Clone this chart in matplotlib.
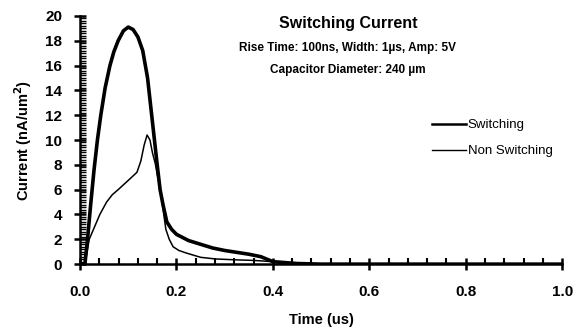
import matplotlib
matplotlib.use("Agg")
import matplotlib.pyplot as plt
from matplotlib.ticker import MultipleLocator, FormatStrFormatter

plt.rcParams['font.family'] = ['Liberation Sans', 'DejaVu Sans']

# values
t_sw = [0.0, 0.010, 0.015, 0.022, 0.029, 0.036, 0.043, 0.052, 0.062, 0.070, 0.079, 0.090,
        0.100, 0.110, 0.120, 0.130, 0.140, 0.150, 0.160, 0.166, 0.172, 0.180, 0.190, 0.200,
        0.225, 0.250, 0.275, 0.300, 0.325, 0.350, 0.375, 0.400, 0.450, 0.500, 0.700, 1.000]
i_sw = [0.0, 0.0, 1.8, 4.8, 7.6, 10.0, 12.0, 14.2, 16.0, 17.1, 18.0, 18.8,
        19.1, 18.9, 18.3, 17.2, 15.0, 11.5, 8.0, 6.0, 4.8, 3.4, 2.8, 2.4,
        1.9, 1.6, 1.3, 1.1, 0.95, 0.8, 0.6, 0.2, 0.05, 0.0, 0.0, 0.0]

t_ns = [0.0, 0.010, 0.019, 0.030, 0.041, 0.055, 0.067, 0.079, 0.093, 0.107, 0.118, 0.126,
        0.133, 0.139, 0.145, 0.150, 0.156, 0.163, 0.170, 0.178, 0.185, 0.193, 0.205, 0.220,
        0.250, 0.280, 0.320, 0.360, 0.400, 0.450, 0.500, 0.700, 1.000]
i_ns = [0.0, 0.0, 2.0, 3.0, 4.0, 5.0, 5.6, 6.0, 6.5, 7.0, 7.4, 8.3,
        9.6, 10.4, 10.0, 9.0, 8.1, 6.6, 5.0, 2.8, 2.0, 1.4, 1.1, 0.9,
        0.55, 0.42, 0.35, 0.3, 0.2, 0.05, 0.0, 0.0, 0.0]

x_ticks = [0.0, 0.2, 0.4, 0.6, 0.8, 1.0]
y_ticks = [0, 2, 4, 6, 8, 10, 12, 14, 16, 18, 20]

fig = plt.figure(figsize=(5.76, 3.31), dpi=100)
ax = fig.add_axes([0.139, 0.202, 0.837, 0.750])

sw_line, = ax.plot(t_sw, i_sw, color='black', lw=2.6, solid_joinstyle='round')
ns_line, = ax.plot(t_ns, i_ns, color='black', lw=1.1)

ax.set_xlim(0, 1.0)
ax.set_ylim(0, 20)
ax.set_xticks(x_ticks)
ax.set_yticks(y_ticks)
ax.xaxis.set_major_formatter(FormatStrFormatter('%.1f'))
ax.xaxis.set_minor_locator(MultipleLocator(0.04))
ax.yaxis.set_minor_locator(MultipleLocator(0.2))

for s in ['top', 'right']:
    ax.spines[s].set_visible(False)
for s in ['left', 'bottom']:
    ax.spines[s].set_linewidth(1.8)

ax.tick_params(axis='both', which='major', direction='inout', length=8, width=1.8,
               labelsize=11)
ax.tick_params(axis='x', which='major', pad=11)
ax.tick_params(axis='y', which='major', pad=9)
ax.tick_params(axis='x', which='minor', direction='in', length=4, width=1.5)
ax.tick_params(axis='y', which='minor', direction='in', length=4, width=1.0)
for lab in ax.get_xticklabels() + ax.get_yticklabels():
    lab.set_fontweight('bold')

ax.set_xlabel('Time (us)', fontsize=10.5, fontweight='bold', labelpad=10)
ax.set_ylabel('Current (nA/um$^\\mathbf{2}$)', fontsize=10.5, fontweight='bold', labelpad=8)

fig.text(0.604, 0.93, 'Switching Current', ha='center', va='center',
         fontsize=11.5, fontweight='bold')
fig.text(0.604, 0.855, 'Rise Time: 100ns, Width: 1\u00b5s, Amp: 5V', ha='center',
         va='center', fontsize=8.5, fontweight='bold')
fig.text(0.604, 0.789, 'Capacitor Diameter: 240 \u00b5m', ha='center', va='center',
         fontsize=8.5, fontweight='bold')

leg_sw, = ax.plot([], [], color='black', lw=1.8)
leg_ns, = ax.plot([], [], color='black', lw=1.0)
ax.legend([leg_sw, leg_ns], ['Switching', 'Non Switching'], loc='upper left',
          bbox_to_anchor=(0.75, 0.64), bbox_transform=fig.transFigure,
          frameon=False, fontsize=9.5, handlelength=2.6, handletextpad=0.1,
          labelspacing=1.05, borderpad=0, borderaxespad=0)

fig.savefig('out.png', dpi=100)
